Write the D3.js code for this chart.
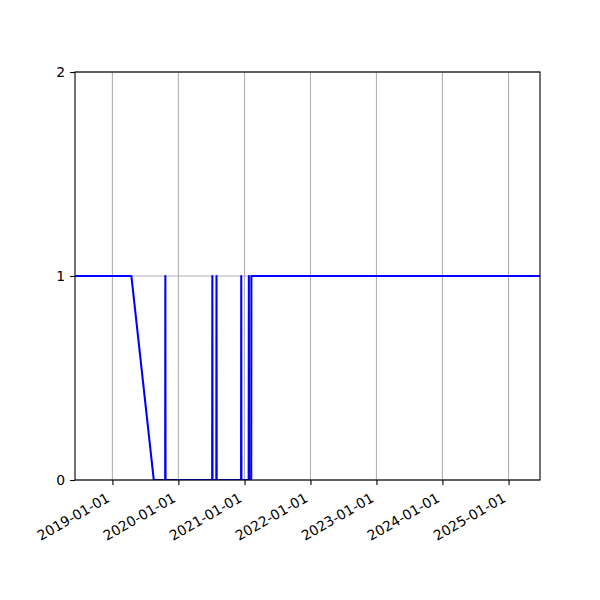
<!DOCTYPE html>
<html>
<head>
<meta charset="utf-8">
<script src="https://cdn.jsdelivr.net/npm/d3@7"></script>
<style>
  body { margin: 0; background: #fff; }
  text { font-family: "DejaVu Sans", sans-serif; font-size: 13.9px; fill: #000; }
</style>
</head>
<body>
<div id="chart"></div>
<script>
// series (value is 0 or 1)
const dates = [
  "2018-06-08", "2019-04-16", "2019-08-18",
  "2019-10-20", "2019-10-21", "2019-10-22",
  "2020-07-06", "2020-07-07", "2020-07-08",
  "2020-07-29", "2020-07-30", "2020-07-31",
  "2020-12-13", "2020-12-14", "2020-12-15",
  "2021-01-24", "2021-01-25", "2021-01-26",
  "2021-02-07", "2021-02-08", "2025-06-24"
];
const values = [
  1, 1, 0,
  0, 1, 0,
  0, 1, 0,
  0, 1, 0,
  0, 1, 0,
  0, 1, 0,
  0, 1, 1
];
const xTickLabels = ["2019-01-01", "2020-01-01", "2021-01-01", "2022-01-01",
                     "2023-01-01", "2024-01-01", "2025-01-01"];
const yTicks = [0, 1, 2];
const xRange = ["2018-06-08", "2025-06-24"];

window.onload = function() {
    let margin = {top: 72, right: 60, bottom: 120, left: 75},
        width = 600 - margin.left - margin.right,
        height = 600 - margin.top - margin.bottom;

    let parse = d3.timeParse("%Y-%m-%d");
    let data = dates.map((d, i) => ({date: parse(d), value: values[i]}));

    let svg = d3.select("#chart")
        .append("svg")
        .attr("width", 600)
        .attr("height", 600)
        .append("g")
        .attr("transform", "translate(" + margin.left + "," + margin.top + ")");

    const X_SCALE = d3.scaleTime()
        .domain(xRange.map(parse))
        .range([0, width]);
    const Y_SCALE = d3.scaleLinear()
        .domain([0, 2])
        .range([height, 0]);

    let xTicks = xTickLabels.map(parse);

    // grid lines
    svg.append("g").selectAll("line.vgrid")
        .data(xTicks).enter().append("line")
        .attr("x1", d => X_SCALE(d)).attr("x2", d => X_SCALE(d))
        .attr("y1", 0).attr("y2", height)
        .attr("stroke", "#b0b0b0").attr("stroke-width", 1.1);
    svg.append("g").selectAll("line.hgrid")
        .data(yTicks).enter().append("line")
        .attr("x1", 0).attr("x2", width)
        .attr("y1", d => Y_SCALE(d)).attr("y2", d => Y_SCALE(d))
        .attr("stroke", "#b0b0b0").attr("stroke-width", 1.1);

    // clip the line to the plot area
    svg.append("clipPath").attr("id", "clip")
        .append("rect").attr("width", width).attr("height", height);

    let line = d3.line()
        .x(d => X_SCALE(d.date))
        .y(d => Y_SCALE(d.value));

    svg.append("path")
        .datum(data)
        .attr("clip-path", "url(#clip)")
        .attr("d", line)
        .attr("fill", "none")
        .attr("stroke", "#0000ff")
        .attr("stroke-width", 2.08)
        .attr("stroke-linejoin", "round");

    // x axis
    let xAxis = svg.append("g")
        .attr("transform", "translate(0," + height + ")")
        .call(d3.axisBottom(X_SCALE).tickValues(xTicks).tickSize(4.9).tickFormat(""));
    xAxis.select(".domain").remove();
    xAxis.selectAll("line").attr("stroke", "#000").attr("stroke-width", 1.1);

    xAxis.selectAll(".xlab")
        .data(xTicks).enter().append("text")
        .attr("class", "xlab")
        .attr("transform", d => "translate(" + X_SCALE(d) + ",23.6) rotate(-30)")
        .attr("text-anchor", "end")
        .attr("y", -3.3)
        .text((d, i) => xTickLabels[i]);

    // y axis
    let yAxis = svg.append("g")
        .call(d3.axisLeft(Y_SCALE).tickValues(yTicks).tickSize(4.9).tickPadding(4.9).tickFormat(d3.format("d")));
    yAxis.select(".domain").remove();
    yAxis.selectAll("line").attr("stroke", "#000").attr("stroke-width", 1.1);
    yAxis.selectAll("text")
        .style("font-family", "DejaVu Sans, sans-serif")
        .style("font-size", "13.9px");

    // frame
    svg.append("rect")
        .attr("width", width).attr("height", height)
        .attr("fill", "none")
        .attr("stroke", "#000")
        .attr("stroke-width", 1.1);
}
</script>
</body>
</html>
